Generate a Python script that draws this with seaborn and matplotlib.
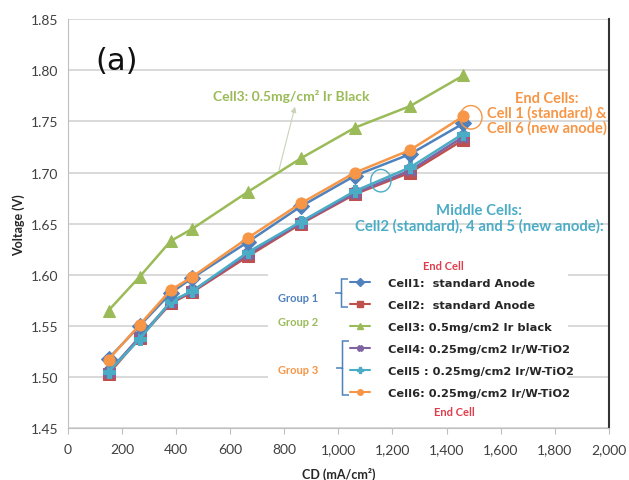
import pandas as pd
import matplotlib.pyplot as plt
import matplotlib.ticker as mtick
from matplotlib.patches import Rectangle, Ellipse, PathPatch
from matplotlib.path import Path
from matplotlib.lines import Line2D
import seaborn as sns

# current density points (mA/cm2)
cd = [150, 265, 380, 460, 665, 862, 1062, 1265, 1462]

cell1 = [1.518, 1.550, 1.582, 1.597, 1.632, 1.667, 1.697, 1.718, 1.748]
cell2 = [1.503, 1.538, 1.572, 1.583, 1.618, 1.650, 1.679, 1.700, 1.732]
cell3 = [1.565, 1.598, 1.633, 1.645, 1.681, 1.714, 1.744, 1.765, 1.795]
cell4 = [1.505, 1.539, 1.573, 1.584, 1.620, 1.651, 1.680, 1.702, 1.735]
cell5 = [1.505, 1.537, 1.574, 1.584, 1.622, 1.652, 1.682, 1.705, 1.738]
cell6 = [1.517, 1.551, 1.585, 1.598, 1.636, 1.670, 1.700, 1.722, 1.755]

cells = ["Cell1", "Cell2", "Cell3", "Cell4", "Cell5", "Cell6"]
legend_labels = ["Cell1:  standard Anode", "Cell2:  standard Anode",
                 "Cell3: 0.5mg/cm2 Ir black", "Cell4: 0.25mg/cm2 Ir/W-TiO2",
                 "Cell5 : 0.25mg/cm2 Ir/W-TiO2", "Cell6: 0.25mg/cm2 Ir/W-TiO2"]

colors = {"Cell1": "#4f81bd", "Cell2": "#c0504d", "Cell3": "#9bbb59",
          "Cell4": "#8064a2", "Cell5": "#4bacc6", "Cell6": "#f79646"}
markers = {"Cell1": "D", "Cell2": "s", "Cell3": "^",
           "Cell4": "X", "Cell5": "P", "Cell6": "o"}

df = pd.DataFrame({
    "cd": cd * 6,
    "voltage": cell1 + cell2 + cell3 + cell4 + cell5 + cell6,
    "cell": sum([[c] * len(cd) for c in cells], []),
})

sns.set_style("whitegrid")
plt.rcParams["font.family"] = ["Lato", "DejaVu Sans"]

W, H = 629, 481
fig = plt.figure(figsize=(6.29, 4.81), dpi=100)
ax = fig.add_axes([0.108, 0.108, 0.860, 0.850])


def fx(px):
    return px / W


def fy(py):
    return 1 - py / H


def brace(x_tip, y_top, y_bot, depth, color):
    # curly brace opening to the right, in figure pixel coords (top-left origin)
    xm = x_tip + depth * 0.5
    xr = x_tip + depth
    ym = (y_top + y_bot) / 2
    pts = [(xr, y_top), (xm, y_top), (xm, y_top), (xm, y_top + 4),
           (xm, ym - 4), (xm, ym), (xm, ym), (x_tip, ym),
           (xm, ym), (xm, ym), (xm, ym + 4),
           (xm, y_bot - 4), (xm, y_bot), (xm, y_bot), (xr, y_bot)]
    codes = [Path.MOVETO, Path.CURVE3, Path.CURVE3, Path.LINETO,
             Path.LINETO, Path.CURVE3, Path.CURVE3, Path.LINETO,
             Path.MOVETO, Path.CURVE3, Path.CURVE3,
             Path.LINETO, Path.CURVE3, Path.CURVE3, Path.LINETO]
    pts = [(fx(a), fy(b)) for a, b in pts]
    fig.add_artist(PathPatch(Path(pts, codes), facecolor="none", edgecolor=color,
                             lw=1.1, transform=fig.transFigure))


# draw order: green, blue-ish group, orange on top
order = ["Cell3", "Cell2", "Cell4", "Cell5", "Cell1", "Cell6"]
for c in order:
    sub = df[df["cell"] == c]
    sns.lineplot(data=sub, x="cd", y="voltage", color=colors[c], marker=markers[c],
                 markersize=8, markeredgecolor=colors[c], linewidth=1.8,
                 ax=ax, legend=False, zorder=3)

ax.set_xlim(0, 2000)
ax.set_ylim(1.45, 1.85)
ax.set_xticks(range(0, 2001, 200))
ax.set_yticks([1.45, 1.50, 1.55, 1.60, 1.65, 1.70, 1.75, 1.80, 1.85])
ax.xaxis.set_major_formatter(mtick.FuncFormatter(lambda v, p: f"{int(v):,}"))
ax.yaxis.set_major_formatter(mtick.FormatStrFormatter("%.2f"))
ax.grid(axis="x", visible=False)
ax.grid(axis="y", color="#d9d9d9", linewidth=1.4)
ax.tick_params(axis="both", labelsize=10, colors="#404040")
ax.tick_params(axis="x", length=4, color="#bfbfbf", direction="out", bottom=True,
               pad=7)
ax.spines["top"].set_visible(False)
ax.spines["left"].set_color("#bfbfbf")
ax.spines["bottom"].set_color("#bfbfbf")
ax.spines["right"].set_color("#333333")
ax.spines["right"].set_linewidth(1.5)
ax.set_xlabel("CD (mA/cm²)", fontsize=9, fontweight="bold", color="#262626",
              labelpad=8)
ax.set_ylabel("Voltage (V)", fontsize=9, fontweight="bold", color="#262626")

# white block behind legend
ax.add_patch(Rectangle((0.37, 0.02), 0.555, 0.405, transform=ax.transAxes,
                       facecolor="white", edgecolor="none", zorder=1))

handles = [Line2D([], [], color=colors[c], marker=markers[c], markersize=4,
                  linewidth=1.5) for c in cells]
leg = ax.legend(handles, legend_labels, loc="upper left",
                bbox_to_anchor=(fx(350), fy(279)),
                bbox_transform=fig.transFigure, frameon=False,
                borderpad=0, borderaxespad=0, handlelength=1.8,
                handletextpad=1.5, labelspacing=1.05,
                prop={"family": "DejaVu Sans", "weight": "bold", "size": 8.2})
for t in leg.get_texts():
    t.set_color("#262626")

fig.text(fx(443), fy(267), "End Cell", color="#e03c4c", fontsize=8,
         fontweight="bold", ha="center", va="center")
fig.text(fx(454), fy(412), "End Cell", color="#e03c4c", fontsize=8,
         fontweight="bold", ha="center", va="center")
fig.text(fx(278), fy(298), "Group 1", color="#4f81bd", fontsize=8,
         fontweight="bold", va="center")
fig.text(fx(278), fy(322), "Group 2", color="#9bbb59", fontsize=8,
         fontweight="bold", va="center")
fig.text(fx(278), fy(370), "Group 3", color="#f79646", fontsize=8,
         fontweight="bold", va="center")
brace(335, 280, 308, 13, "#4f81bd")
brace(336, 342, 396, 13, "#4f81bd")

fig.text(fx(95), fy(62), "(a)", fontsize=22, color="#111111",
         fontfamily="DejaVu Sans", va="center")
fig.text(fx(291), fy(97), "Cell3: 0.5mg/cm² Ir Black", color="#9bbb59",
         fontsize=10, fontweight="bold", ha="center", va="center")
ax.annotate("", xy=(842, 1.767), xytext=(778, 1.700),
            arrowprops=dict(arrowstyle="-|>", color="#c8d4b8", lw=0.8,
                            mutation_scale=8))

fig.text(fx(547), fy(114), "End Cells:\nCell 1 (standard) &\nCell 6 (new anode)",
         color="#f79646", fontsize=10.5, fontweight="bold", ha="center", va="center",
         linespacing=1.05)
fig.text(fx(479), fy(219),
         "Middle Cells:\nCell2 (standard), 4 and 5 (new anode):",
         color="#4bacc6", fontsize=10.7, fontweight="bold", ha="center", va="center",
         linespacing=1.1)
ax.add_patch(Ellipse((1490, 1.754), 82, 0.023, facecolor="none",
                     edgecolor="#f79646", lw=1.0, zorder=4))
ax.add_patch(Ellipse((1157, 1.692), 75, 0.022, facecolor="none",
                     edgecolor="#4bacc6", lw=1.0, zorder=4))

fig.savefig("out.png", dpi=100)
